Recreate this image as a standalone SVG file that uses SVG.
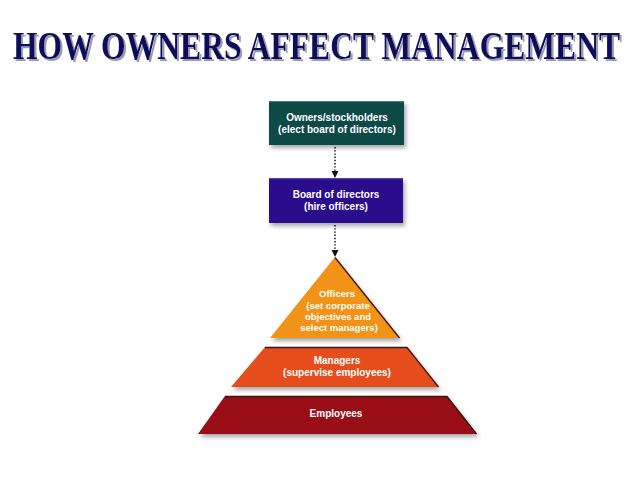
<svg xmlns="http://www.w3.org/2000/svg" width="638" height="479" viewBox="0 0 638 479">
<style>
.lbl{font-family:"Liberation Sans",Arial,sans-serif;font-weight:bold;font-size:10px;fill:#ffffff;text-anchor:middle}
.sm{font-size:9.5px}
.title{font-family:"Liberation Serif","Times New Roman",serif;font-weight:bold;font-size:31.6px;fill:#0b0b5c}
.conn{stroke:#222;stroke-width:1.6;stroke-dasharray:1.4 1.8;fill:none}
.edge{fill:none;stroke:#3a1a10;stroke-width:1.3;stroke-linejoin:round}
</style>
<defs>
<filter id="sh" x="-10%" y="-10%" width="130%" height="140%">
<feGaussianBlur in="SourceAlpha" stdDeviation="2.2"/>
<feOffset dx="2" dy="3" result="b"/>
<feComponentTransfer><feFuncA type="linear" slope="0.35"/></feComponentTransfer>
<feMerge><feMergeNode/><feMergeNode in="SourceGraphic"/></feMerge>
</filter>
<filter id="tsh" x="-2%" y="-10%" width="104%" height="130%">
<feOffset in="SourceAlpha" dx="2" dy="1.7" result="o"/>
<feFlood flood-color="#9a9ab4"/>
<feComposite in2="o" operator="in"/>
<feMerge><feMergeNode/><feMergeNode in="SourceGraphic"/></feMerge>
</filter>
</defs>
<rect width="638" height="479" fill="#ffffff"/>
<g id="title" transform="scale(1 1.234)">
<text class="title" x="13" y="47.8" filter="url(#tsh)">HOW OWNERS AFFECT MANAGEMENT</text>
</g>
<g id="connectors">
<line class="conn" x1="335" y1="147" x2="335" y2="172"/>
<path d="M331.5,171 L338.5,171 L335,178 z" fill="#111"/>
<line class="conn" x1="335" y1="225" x2="335" y2="251"/>
<path d="M331.5,250 L338.5,250 L335,257 z" fill="#111"/>
</g>
<g id="owners">
<rect x="269" y="101" width="135" height="44" fill="#0e4a44" filter="url(#sh)"/>
<line x1="269" y1="101.6" x2="404" y2="101.6" stroke="#3d7a72" stroke-width="1.2"/>
<text class="lbl" x="337" y="121">Owners/stockholders</text>
<text class="lbl" x="337" y="133">(elect board of directors)</text>
</g>
<g id="board">
<rect x="269" y="178" width="134" height="45" fill="#2c0d8c" filter="url(#sh)"/>
<line x1="269" y1="178.6" x2="403" y2="178.6" stroke="#5a40b0" stroke-width="1.2"/>
<text class="lbl" x="336" y="198">Board of directors</text>
<text class="lbl" x="336" y="210">(hire officers)</text>
</g>
<g id="officers">
<polygon points="335,257 400,338 270,338" fill="#f29218" filter="url(#sh)"/>
<polyline class="edge" points="335,257.5 399.5,338"/>
<text class="lbl sm" x="337" y="297">Officers</text>
<text class="lbl sm" x="338" y="309">(set corporate</text>
<text class="lbl sm" x="338" y="320">objectives and</text>
<text class="lbl sm" x="339" y="331">select managers)</text>
</g>
<g id="managers">
<polygon points="265,347 407,347 439,387 231,387" fill="#e64e1a" filter="url(#sh)"/>
<polyline class="edge" points="265,347.5 407,347.5 438.5,387"/>
<text class="lbl" x="337" y="364">Managers</text>
<text class="lbl" x="337" y="376">(supervise employees)</text>
</g>
<g id="employees">
<polygon points="225,396 447,396 477,434 198,434" fill="#990a16" filter="url(#sh)"/>
<polyline class="edge" points="225,396.5 447,396.5 476.5,434"/>
<text class="lbl" x="336" y="417">Employees</text>
</g>
</svg>
